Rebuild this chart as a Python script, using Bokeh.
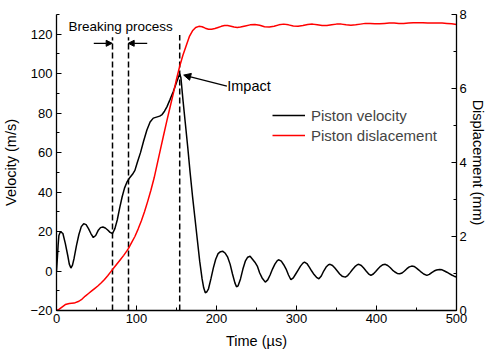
from bokeh.plotting import figure
from bokeh.models import (Range1d, LinearAxis, SingleIntervalTicker, Legend, LegendItem,
                          Label, Arrow, NormalHead)
from bokeh.embed import file_html
from bokeh.resources import INLINE

# ---- data ----
vel_t = [0, 1, 2, 3, 5, 8, 11, 14, 16, 18, 20, 22, 25, 28, 31, 34, 37, 40, 43, 46, 49, 52, 55, 58,
         61, 64, 67, 70, 73, 76, 79, 82, 85, 88, 91, 95, 98, 101, 105, 109, 113, 117, 121, 125, 129,
         132, 135, 138, 142, 146, 150, 154, 155.5, 158, 161, 164, 167, 170, 173, 176, 179, 182, 184,
         186, 188, 190, 193, 196, 199, 202, 205, 208, 211, 214, 217, 220, 223, 225, 227, 230, 233,
         236, 239, 242, 245, 248, 251, 254, 257, 261, 264, 267, 270, 273, 276, 278, 281, 284, 287,
         290, 293, 296, 299, 302, 305, 308, 310, 313, 316, 319, 322, 325, 328, 331, 334, 337, 340,
         342, 345, 348, 351, 354, 357, 361, 364, 367, 370, 373, 376, 378, 381, 384, 387, 390, 393,
         396, 399, 402, 405, 408, 411, 414, 417, 420, 423, 426, 429, 432, 435, 438, 441, 444, 447,
         450, 453, 456, 459, 463, 466, 469, 472, 475, 479, 482, 485, 488, 491, 494, 497, 500]
vel_v = [0, 6, 13, 18, 20, 19, 14, 8, 3.5, 1.5, 3, 6.5, 13, 18.5, 22.5, 24, 23.5, 21.5, 19, 17, 18,
         20.5, 22, 22.3, 21.8, 20.8, 19.6, 19, 21.5, 26, 32, 37.5, 42, 45, 47, 49, 51, 55, 60, 66,
         71.5, 75.5, 77.5, 78, 78.5, 79.3, 81, 83.2, 87, 91, 95.5, 100, 98, 87, 75, 63, 50, 38, 27,
         16, 5, -4, -8.5, -11, -10.5, -9, -4, 1.5, 6, 8.8, 9.8, 10, 9, 7, 3.5, -1.5, -6, -8, -7.5,
         -4, 1, 5, 7, 7.5, 6, 4.5, 2.5, -1, -3.5, -5.6, -4.5, -2, 1, 3.5, 5.3, 5.7, 5, 3.2, 1, -2,
         -4.4, -3.5, -1.5, 0.5, 2.5, 4, 4.5, 3.8, 2, 0, -1.8, -3.2, -3.9, -2.5, 0, 2, 3.2, 3.4, 2.8,
         1.5, 0, -1.5, -2.6, -3.1, -2.3, -0.8, 0.8, 2.2, 3.2, 3.4, 2.8, 1.5, 0, -1.4, -2.2, -1.5,
         -0.2, 1.2, 2.4, 3.2, 3.4, 2.8, 1.8, 0.5, -0.5, -1.2, -1.4, -1, 0, 1.2, 2.1, 2.5, 2.3, 1.5,
         0.5, -0.6, -1.5, -2.2, -1.7, -0.8, 0, 0.5, 0.8, 0.6, 0, -0.6, -1.3, -2, -2.6, -3]

disp_t = [0, 3, 6, 11, 16, 22, 28, 32, 36, 40, 44, 48, 52, 56, 60, 64, 68, 72, 76, 80, 84, 88, 90,
          94, 98, 102, 106, 110, 114, 118, 122, 126, 130, 134, 138, 142, 146, 150, 154, 158, 162,
          166, 170, 174, 178, 182, 186, 190, 194, 198, 202, 206, 210, 214, 218, 222, 226, 230,
          236, 242, 248, 254, 260, 266, 272, 278, 284, 290, 296, 302, 308, 314, 320, 326, 332,
          338, 344, 350, 356, 362, 368, 374, 380, 386, 392, 398, 404, 410, 416, 422, 428, 434,
          440, 446, 452, 458, 464, 470, 476, 482, 488, 494, 500]
disp_d = [0.0, 0.03, 0.08, 0.16, 0.19, 0.2, 0.25, 0.31, 0.39, 0.46, 0.53, 0.6, 0.67, 0.75, 0.84,
          0.94, 1.05, 1.16, 1.27, 1.38, 1.49, 1.61, 1.68, 1.84, 2.0, 2.2, 2.42, 2.67, 2.95, 3.25,
          3.58, 3.97, 4.36, 4.75, 5.13, 5.5, 5.86, 6.25, 6.6, 6.9, 7.15, 7.4, 7.56, 7.65, 7.68,
          7.67, 7.63, 7.6, 7.6, 7.62, 7.65, 7.68, 7.7, 7.7, 7.68, 7.66, 7.65, 7.66, 7.69, 7.72,
          7.73, 7.71, 7.67, 7.66, 7.68, 7.72, 7.74, 7.72, 7.69, 7.68, 7.7, 7.73, 7.74, 7.72, 7.7,
          7.7, 7.72, 7.74, 7.74, 7.72, 7.71, 7.72, 7.74, 7.76, 7.76, 7.75, 7.75, 7.76, 7.77, 7.77,
          7.76, 7.76, 7.77, 7.78, 7.78, 7.78, 7.77, 7.77, 7.77, 7.77, 7.76, 7.75, 7.73]

marker_t = [70, 90, 154]          # dashed vertical markers (µs)
marker_top = [118.5, 118.5, 119.6]

x_ticks_interval = 100
y_ticks_interval = 20
y2_ticks_interval = 2

FONT = "Liberation Sans"

p = figure(width=488, height=353, output_backend="svg", toolbar_location=None,
           x_range=Range1d(0, 500), y_range=Range1d(-20, 130),
           min_border_left=56, min_border_right=32, min_border_top=14, min_border_bottom=43)
p.extra_y_ranges = {"disp": Range1d(0, 8)}
p.outline_line_color = None
p.xgrid.visible = False
p.ygrid.visible = False
p.background_fill_color = "white"
p.border_fill_color = "white"


def style_axis(ax, standoff_lbl, standoff_ax):
    ax.major_tick_in = 5
    ax.major_tick_out = 0
    ax.minor_tick_in = 3
    ax.minor_tick_out = 0
    ax.axis_line_color = "black"
    ax.axis_line_width = 1.3
    ax.major_tick_line_color = "black"
    ax.minor_tick_line_color = "black"
    ax.major_label_text_font = FONT
    ax.major_label_text_font_size = "13px"
    ax.major_label_text_color = "black"
    ax.major_label_standoff = standoff_lbl
    ax.axis_label_text_font = FONT
    ax.axis_label_text_font_size = "14.5px"
    ax.axis_label_text_font_style = "normal"
    ax.axis_label_text_color = "black"
    ax.axis_label_standoff = standoff_ax


p.xaxis.ticker = SingleIntervalTicker(interval=x_ticks_interval, num_minor_ticks=2)
p.yaxis.ticker = SingleIntervalTicker(interval=y_ticks_interval, num_minor_ticks=2)
p.xaxis.axis_label = "Time (µs)"
p.yaxis.axis_label = "Velocity (m/s)"
style_axis(p.xaxis[0], 3, 7)
style_axis(p.yaxis[0], 4, 8)

ax2 = LinearAxis(y_range_name="disp", axis_label="Displacement (mm)",
                 ticker=SingleIntervalTicker(interval=y2_ticks_interval, num_minor_ticks=2))
style_axis(ax2, 3, 0)
p.add_layout(ax2, "right")

# dashed markers
p.segment(x0=marker_t, y0=[-20] * len(marker_t), x1=marker_t, y1=marker_top,
          line_color="black", line_width=1.5, line_dash="6 3")

r_vel = p.line(vel_t, vel_v, line_color="black", line_width=1.5)
r_disp = p.line(disp_t, disp_d, line_color="#ff0000", line_width=1.5, y_range_name="disp")

# annotations
p.add_layout(Label(x=15, y=124.1, text="Breaking process", text_font=FONT,
                   text_font_size="13.5px", text_baseline="middle", text_color="black"))
head = dict(size=6, fill_color="black", line_color="black")
p.add_layout(Arrow(x_start=46.6, y_start=115.4, x_end=69.6, y_end=115.4,
                   end=NormalHead(**head), line_width=1.2))
p.add_layout(Arrow(x_start=113.4, y_start=115.4, x_end=89.6, y_end=115.4,
                   end=NormalHead(**head), line_width=1.2))
p.add_layout(Arrow(x_start=213, y_start=93.7, x_end=159, y_end=99.3,
                   end=NormalHead(size=7, fill_color="black", line_color="black"), line_width=1.2))
p.add_layout(Label(x=213.4, y=93.7, text="Impact", text_font=FONT,
                   text_font_size="14.5px", text_baseline="middle", text_color="black"))

legend = Legend(items=[LegendItem(label="Piston velocity", renderers=[r_vel]),
                       LegendItem(label="Piston dislacement", renderers=[r_disp])],
                location=(216, 165), glyph_width=33, glyph_height=20, label_height=20,
                label_standoff=6, spacing=0, padding=0, margin=0,
                label_text_font=FONT, label_text_font_size="15px",
                border_line_color=None, background_fill_alpha=0)
p.add_layout(legend)

open("out.html", "w").write(file_html(p, INLINE))
